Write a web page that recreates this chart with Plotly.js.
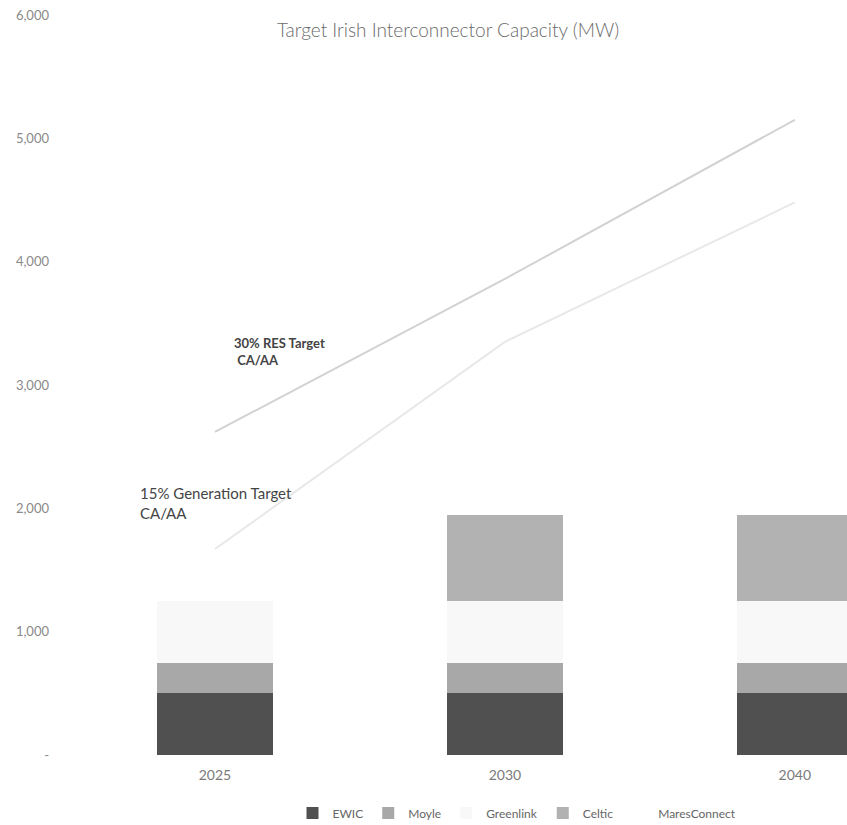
<!DOCTYPE html>
<html>
<head>
<meta charset="utf-8">
<script src="https://cdn.plot.ly/plotly-3.0.1.min.js"></script>
<style>html,body{margin:0;padding:0;background:#fff;}#chart{width:847px;height:825px;}</style>
</head>
<body>
<div id="chart"></div>
<script>
const years = ['2025', '2030', '2040'];
const ewic = [500, 500, 500];
const moyle = [250, 250, 250];
const greenlink = [500, 500, 500];
const celtic = [0, 700, 700];
const maresConnect = [0, 0, 0];
const res30Target = [2620, 3860, 5150];
const gen15Target = [1670, 3350, 4480];
const yTickVals = [0, 1000, 2000, 3000, 4000, 5000, 6000];
const yTickText = ['-', '1,000', '2,000', '3,000', '4,000', '5,000', '6,000'];

const FONT = 'Lato, "Open Sans", sans-serif';

function bar(name, y, color) {
  return { type: 'bar', name: name, x: years, y: y, marker: { color: color, line: { width: 0 } }, hoverinfo: 'skip' };
}

const traces = [
  bar('EWIC', ewic, '#505050'),
  bar('Moyle', moyle, '#a8a8a8'),
  bar('Greenlink', greenlink, '#f8f8f8'),
  bar('Celtic', celtic, '#b2b2b2'),
  bar('MaresConnect', maresConnect, '#ffffff'),
  { type: 'scatter', mode: 'lines', name: '30% RES Target CA/AA', x: years, y: res30Target, line: { color: '#d2d2d2', width: 2 }, showlegend: false },
  { type: 'scatter', mode: 'lines', name: '15% Generation Target CA/AA', x: years, y: gen15Target, line: { color: '#e8e8e8', width: 2 }, showlegend: false }
];

const layout = {
  width: 847, height: 825,
  margin: { l: 70, r: 0, t: 15, b: 70 },
  paper_bgcolor: '#ffffff', plot_bgcolor: '#ffffff',
  font: { family: FONT, color: '#777' },
  barmode: 'stack',
  bargap: 0.6,
  showlegend: true,
  title: {
    text: 'Target Irish Interconnector Capacity (MW)',
    font: { size: 19, color: '#6a6a6a', family: FONT, weight: 300 },
    x: 448 / 847, xref: 'container', xanchor: 'center',
    y: 1 - 30 / 825, yref: 'container', yanchor: 'middle'
  },
  xaxis: {
    type: 'category', range: [-0.5, 2.18],
    showgrid: false, zeroline: false, showline: false, ticks: '',
    tickfont: { size: 14, color: '#7a7a7a' },
    ticklabelstandoff: 10
  },
  yaxis: {
    range: [0, 6000], tickvals: yTickVals, ticktext: yTickText,
    showgrid: false, zeroline: false, showline: false, ticks: '',
    tickfont: { size: 13, color: '#8a8a8a' },
    ticklabelstandoff: 20
  },
  legend: {
    orientation: 'h', x: 517 / 847, xanchor: 'center', xref: 'container',
    y: 1 - 813 / 825, yanchor: 'middle', yref: 'container',
    font: { size: 12, color: '#666' }, traceorder: 'normal', itemwidth: 30
  },
  annotations: [
    { text: '<b>30% RES Target</b><br><b> CA/AA</b>', x: 0.059, y: 3420, xref: 'x', yref: 'y', xanchor: 'left', yanchor: 'top', align: 'left', showarrow: false, font: { size: 13, color: '#444', family: FONT } },
    { text: '15% Generation Target<br>CA/AA', x: -0.266, y: 2210, xref: 'x', yref: 'y', xanchor: 'left', yanchor: 'top', align: 'left', showarrow: false, font: { size: 15, color: '#444', family: FONT } }
  ]
};

Plotly.newPlot('chart', traces, layout, { displayModeBar: false, staticPlot: true });
</script>
</body>
</html>
